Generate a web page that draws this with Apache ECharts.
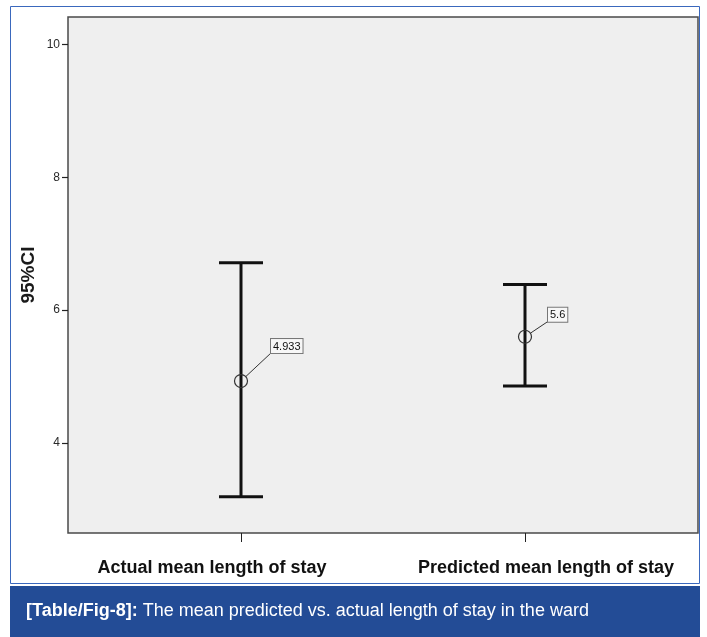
<!DOCTYPE html>
<html>
<head>
<meta charset="utf-8">
<script src="https://cdn.jsdelivr.net/npm/echarts@6/dist/echarts.min.js"></script>
<style>
html,body{margin:0;padding:0;background:#fff;}
#c{width:707px;height:637px;}
</style>
</head>
<body>
<div id="c"></div>
<script>
// ---- data ----
const categories = ['Actual mean length of stay', 'Predicted mean length of stay'];
const means = [4.933, 5.6];
const lowerCI = [3.19, 4.86];
const upperCI = [6.715, 6.385];
const meanLabels = ['4.933', '5.6'];
const yMin = 4, yMax = 10, yStep = 2;
const yAxisTitle = '95%CI';
const captionBold = '[Table/Fig-8]:';
const captionText = ' The mean predicted vs. actual length of stay in the ward';

// ---- styling ----
const FONT = "'Liberation Sans', Arial, Helvetica, sans-serif";
const labelOffsets = [[30, -28], [23, -15]];

const seriesData = categories.map((c, i) => [i, means[i], lowerCI[i], upperCI[i]]);

function renderItem(params, api) {
  const i = api.value(0);
  const m = api.coord([i, api.value(1)]);
  const lo = api.coord([i, api.value(2)]);
  const hi = api.coord([i, api.value(3)]);
  const hw = 22, r = 6.5;
  const off = labelOffsets[params.dataIndex];
  const bx = m[0] + off[0], by = m[1] + off[1];
  const ang = Math.atan2(by - m[1], bx - m[0]);
  const ls = { stroke: '#111', lineWidth: 3 };
  return {
    type: 'group',
    children: [
      { type: 'line', shape: { x1: lo[0], y1: lo[1], x2: hi[0], y2: hi[1] }, style: ls },
      { type: 'line', shape: { x1: hi[0] - hw, y1: hi[1], x2: hi[0] + hw, y2: hi[1] }, style: ls },
      { type: 'line', shape: { x1: lo[0] - hw, y1: lo[1], x2: lo[0] + hw, y2: lo[1] }, style: ls },
      { type: 'circle', shape: { cx: m[0], cy: m[1], r: r }, style: { fill: 'none', stroke: '#333', lineWidth: 1.2 } },
      { type: 'line', shape: { x1: m[0] + r * Math.cos(ang), y1: m[1] + r * Math.sin(ang), x2: bx + 1, y2: by - 1 }, style: { stroke: '#333', lineWidth: 1 } },
      {
        type: 'text', x: bx, y: by,
        style: {
          text: meanLabels[params.dataIndex], x: 0, y: 0,
          align: 'left', verticalAlign: 'bottom',
          fill: '#111', fontSize: 11, fontFamily: FONT,
          backgroundColor: '#f7f7f7', borderColor: '#777', borderWidth: 1,
          padding: [2, 2, 1, 2]
        }
      }
    ]
  };
}

const chart = echarts.init(document.getElementById('c'), null, { renderer: 'canvas' });
chart.setOption({
  animation: false,
  backgroundColor: '#fff',
  title: {
    text: '{b|' + captionBold + '}{n|' + captionText + '}',
    left: 21, top: 597,
    textStyle: {
      rich: {
        b: { fontFamily: FONT, fontSize: 18, fontWeight: 'bold', color: '#fff' },
        n: { fontFamily: FONT, fontSize: 18, fontWeight: 'normal', color: '#fff' }
      }
    }
  },
  graphic: [
    { type: 'rect', shape: { x: 10.5, y: 6.5, width: 689, height: 577 }, style: { fill: 'none', stroke: '#3a68bd', lineWidth: 1 }, z: 0 },
    { type: 'rect', shape: { x: 10, y: 586, width: 690, height: 51 }, style: { fill: '#234c96' }, z: 0 }
  ],
  grid: [
    { left: 68, top: 17, width: 630, height: 516, show: true, backgroundColor: '#efefef', borderColor: '#4a4a4a', borderWidth: 1.5 },
    { left: 99, top: 44.5, width: 568, height: 398.5 }
  ],
  xAxis: [
    { gridIndex: 0, type: 'value', show: false },
    {
      gridIndex: 1, type: 'category', data: categories, offset: 90,
      axisLine: { show: false },
      axisTick: { show: true, alignWithLabel: true, length: 9, lineStyle: { color: '#222', width: 1 } },
      axisLabel: {
        interval: 0, margin: 26,
        formatter: (v, idx) => '{c' + idx + '|' + v + '}',
        rich: {
          c0: { fontFamily: FONT, fontSize: 18, fontWeight: 'bold', color: '#111', padding: [0, 58, 0, 0] },
          c1: { fontFamily: FONT, fontSize: 18, fontWeight: 'bold', color: '#111', padding: [0, 0, 0, 42] }
        }
      },
      splitLine: { show: false }
    }
  ],
  yAxis: [
    {
      gridIndex: 0, type: 'value', name: yAxisTitle, nameLocation: 'middle', nameGap: 30,
      nameTextStyle: { fontFamily: FONT, fontSize: 19, fontWeight: 'bold', color: '#1a1a1a' },
      axisLine: { show: false }, axisTick: { show: false }, axisLabel: { show: false }, splitLine: { show: false }
    },
    {
      gridIndex: 1, type: 'value', min: yMin, max: yMax, interval: yStep, offset: 31,
      axisLine: { show: false },
      axisTick: { show: true, length: 6, lineStyle: { color: '#222', width: 1.2 } },
      axisLabel: { margin: 8, color: '#2a2a2a', fontSize: 12, fontFamily: FONT },
      splitLine: { show: false }
    }
  ],
  series: [{
    type: 'custom',
    xAxisIndex: 1, yAxisIndex: 1,
    renderItem: renderItem,
    data: seriesData,
    clip: false,
    z: 5
  }]
});
</script>
</body>
</html>
